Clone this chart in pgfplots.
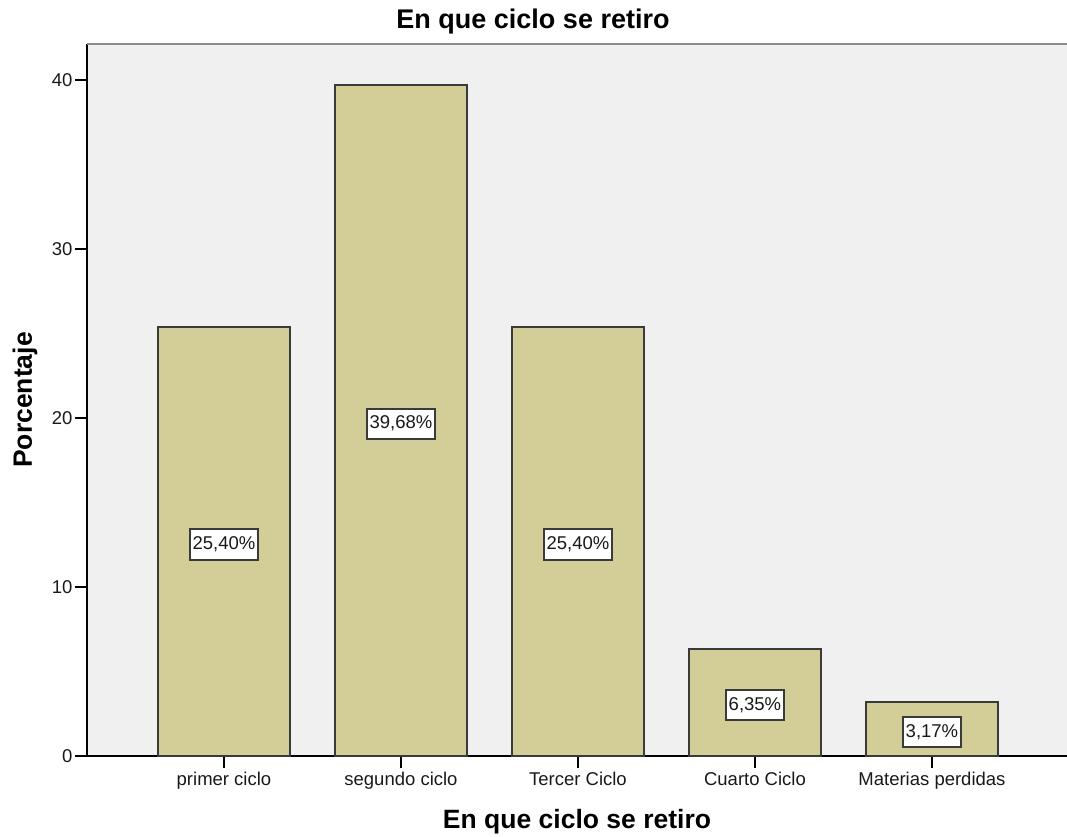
\documentclass[border=0pt]{standalone}
\usepackage{fontspec}
\setmainfont{Liberation Sans}
\usepackage{pgfplots}
\usepackage{pgfplotstable}
\pgfplotsset{compat=1.18}
\definecolor{bgc}{HTML}{F0F0F0}
\definecolor{barc}{HTML}{D3CE98}
\definecolor{edgec}{HTML}{3A3A3A}
\pgfplotstableread{
x y
0 25.40
1 39.68
2 25.40
3 6.35
4 3.17
}\data
\begin{document}
\begin{tikzpicture}
\begin{axis}[
  scale only axis,
  width=980pt, height=712pt,
  xmin=-0.774, xmax=4.763,
  ymin=0, ymax=42.13,
  axis background/.style={fill=bgc},
  axis x line*=bottom, axis y line*=left,
  axis line style={line width=2pt, black, -},
  xtick={0,1,2,3,4},
  xticklabels={primer ciclo, segundo ciclo, Tercer Ciclo, Cuarto Ciclo, Materias perdidas},
  ytick={0,10,20,30,40},
  tick align=outside,
  major tick length=12pt,
  tick style={line width=1.8pt, black},
  /pgf/number format/assume math mode=true,
  tick label style={font=\fontsize{18.5}{20}\selectfont, text=black!90},
  xticklabel style={yshift=-1pt},
  yticklabel style={xshift=1pt},
  clip=false,
]
\addplot[ybar, bar width=0.75, fill=barc, draw=edgec, line width=2pt] table[x=x, y=y] {\data};
\addplot[draw=none, mark=none, nodes near coords={\pgfmathprintnumber[fixed,fixed zerofill,precision=2,use comma,assume math mode=true]{\pgfplotspointmeta}\%},
  nodes near coords align={center},
  point meta=explicit,
  every node near coord/.append style={anchor=center, yshift=-3pt, fill=white, draw=edgec, line width=2pt, inner xsep=3pt, inner ysep=7.5pt, font=\fontsize{18.5}{20}\selectfont, text=black!90}]
  table[x=x, y expr=\thisrow{y}/2, meta=y] {\data};
\draw[gray!90, line width=2.5pt] (rel axis cs:0,1) -- (rel axis cs:1,1);
\end{axis}
\node[font=\fontsize{27}{30}\selectfont\bfseries] at (446pt,734pt) {En que ciclo se retiro};
\node[font=\fontsize{26.5}{30}\selectfont\bfseries] at (490pt,-66pt) {En que ciclo se retiro};
\node[font=\fontsize{26.5}{30}\selectfont\bfseries, rotate=90] at (-62pt,356pt) {Porcentaje};
\pgfresetboundingbox
\path (-87pt,-80pt) rectangle (980pt,756pt);
\end{tikzpicture}
\end{document}
